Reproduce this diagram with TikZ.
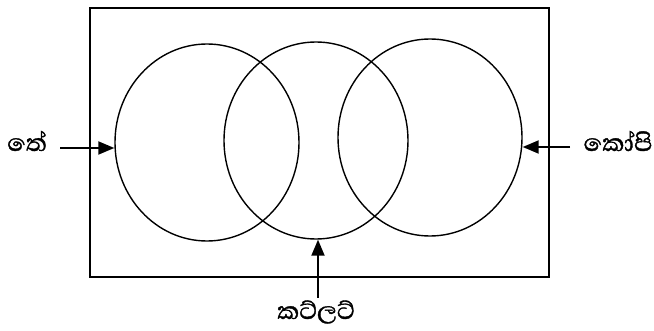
\documentclass[tikz,border=0pt]{standalone}
\usepackage{fontspec}
\newfontfamily\sinhala[Script=Sinhala,FakeBold=1.2]{Abhaya Libre}
\usetikzlibrary{shapes.geometric,arrows.meta}
\begin{document}
\begin{tikzpicture}[x=1pt,y=-1pt,
  set/.style={draw, line width=1.4pt, ellipse, minimum width=184pt, minimum height=197pt, inner sep=0pt},
  frame/.style={draw, line width=2pt, rectangle, minimum width=459pt, minimum height=269pt, inner sep=0pt},
  lbl/.style={font=\sinhala\fontsize{31}{36}\selectfont, inner sep=0pt},
  arr/.style={line width=2pt, -{Triangle[length=16pt,width=13pt]}}]
  \useasboundingbox (0,0) rectangle (654,331);
  % outer box
  \node[frame] (box) at (319.5,142.5) {};
  % three overlapping sets
  \node[set] (tea)    at (207,142.5) {};
  \node[set] (cutlet) at (316,140.5) {};
  \node[set] (coffee) at (430,137.5) {};
  % labels
  \node[lbl] (lt) at (27,141) {තේ};
  \node[lbl] (lc) at (618,141) {කෝපි};
  \node[lbl] (lk) at (316,312) {කට්ලට්};
  % arrow tails
  \coordinate (t1) at (60,148);
  \coordinate (t2) at (570,147);
  \coordinate (t3) at (318,298);
  \draw[arr] (t1) -- (tea.west |- t1);
  \draw[arr] (t2) -- (coffee.east |- t2);
  \draw[arr] (t3) -- (t3 |- cutlet.south);
\end{tikzpicture}
\end{document}
